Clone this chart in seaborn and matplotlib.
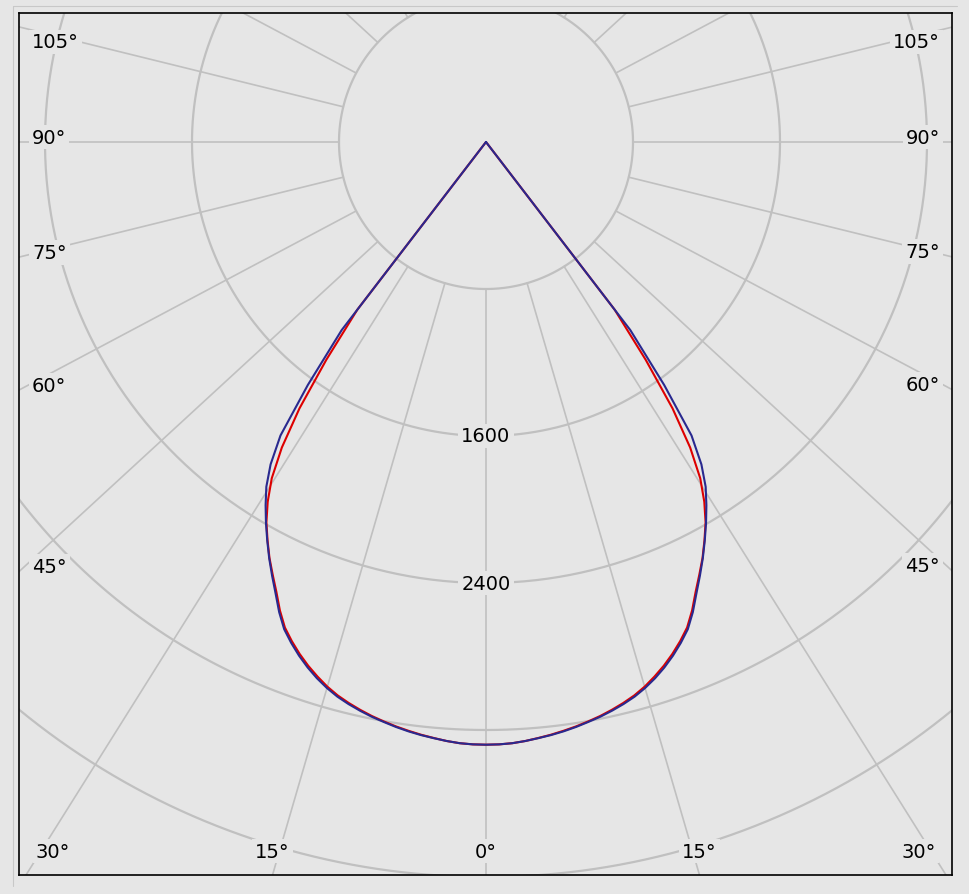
"""
Polar luminous intensity diagram (cd) - two C-planes, red and blue
"""

import numpy as np
import pandas as pd
import matplotlib
matplotlib.use("Agg")
import matplotlib.pyplot as plt
from matplotlib.lines import Line2D
import seaborn as sns

# gamma angles, degrees from nadir (same on both halves of the diagram)
gamma = [0, 1.25, 2.5, 3.75, 5, 6.25, 7.5, 8.75, 10, 11.25, 12.5, 13.75,
         15, 16.25, 17.5, 18.75, 20, 21.25, 22.5, 23.75, 25, 26.25, 27.5,
         28.75, 30, 31.25, 32.5, 33.75, 35, 36.25, 37.5, 40, 45, 60, 75, 90]
# intensities (cd)
blue_cd = [3280, 3279, 3275, 3267, 3257, 3247, 3235, 3221, 3205, 3189, 3170,
           3149, 3125, 3095, 3060, 3020, 2975, 2925, 2870, 2795, 2710, 2632,
           2555, 2475, 2395, 2312, 2225, 2110, 1950, 1640, 1290, 0, 0, 0, 0, 0]
red_cd = [3280, 3279, 3275, 3267, 3256, 3245, 3232, 3218, 3202, 3185, 3165,
          3143, 3118, 3087, 3050, 3010, 2965, 2915, 2860, 2785, 2700, 2625,
          2552, 2472, 2390, 2290, 2170, 2000, 1770, 1470, 1150, 0, 0, 0, 0, 0]

ring_values = [800, 1600, 2400, 3200, 4000]
ring_labels = [1600, 2400]
spoke_angles = list(range(0, 181, 15))

# layout of the reference (pixels)
W, H = 969, 895
FRAME_L, FRAME_T, FRAME_R, FRAME_B = 19, 14, 952, 876
CX, CY = 486, 143
PX = 800 / 147          # candela per pixel
SPOKE_FLATTEN = 0.92    # the spokes in the reference are a bit squashed vertically

BG = '#e6e6e6'
GRID = '#c0c0c0'
BLUE = '#29298f'
RED = '#dd0000'
FONT = ['DejaVu Sans']

sns.set_theme(style='white')
plt.rcParams['font.family'] = FONT


def build_curve(values):
    """Mirror one half profile into a full left-to-right curve"""
    th = np.radians(np.array(gamma, dtype=float))
    v = np.array(values, dtype=float)
    th_full = np.concatenate([-th[::-1], th[1:]])
    v_full = np.concatenate([v[::-1], v[1:]])
    return pd.DataFrame({
        'x': v_full * np.sin(th_full),
        'y': -v_full * np.cos(th_full),
    })


fig = plt.figure(figsize=(W / 100, H / 100), dpi=100, facecolor=BG)
ax = fig.add_axes([FRAME_L / W, 1 - FRAME_B / H,
                   (FRAME_R - FRAME_L) / W, (FRAME_B - FRAME_T) / H])
ax.set_facecolor(BG)

x0, x1 = (FRAME_L - CX) * PX, (FRAME_R - CX) * PX
y0, y1 = (CY - FRAME_B) * PX, (CY - FRAME_T) * PX

# rings
t = np.linspace(0, 2 * np.pi, 721)
for r in ring_values:
    ax.plot(r * np.cos(t), r * np.sin(t), color=GRID, lw=1.6, zorder=1)

label_kw = dict(fontsize=14, color='black', zorder=5,
                bbox=dict(boxstyle='square,pad=0.15', fc=BG, ec='none'))

# spokes and angle labels
for ang in spoke_angles:
    rad = np.radians(ang)
    for side in (-1, 1):
        if ang in (0, 180) and side == 1:
            continue
        d = np.array([side * np.sin(rad), -SPOKE_FLATTEN * np.cos(rad)])
        d /= np.linalg.norm(d)
        p0, p1 = ring_values[0] * d, 9000 * d
        ax.plot([p0[0], p1[0]], [p0[1], p1[1]], color=GRID, lw=1.2, zorder=1)

        # where does the spoke leave the frame
        tx = (x1 if side > 0 else x0) / d[0] if abs(d[0]) > 1e-9 else np.inf
        if d[1] < -1e-9:
            ty = y0 / d[1]
        elif d[1] > 1e-9:
            ty = y1 / d[1]
        else:
            ty = np.inf
        if tx < ty:
            hy = min(tx * d[1] + 5 * PX, (CY - 43) * PX)
            if side < 0:
                ax.text((32 - CX) * PX, hy, f"{ang}°", ha='left', va='center', **label_kw)
            else:
                ax.text((940 - CX) * PX, hy, f"{ang}°", ha='right', va='center', **label_kw)
        elif d[1] < 0:
            hx = np.clip(ty * d[0], (53 - CX) * PX, (919 - CX) * PX)
            ax.text(hx, (CY - 852) * PX, f"{ang}°", ha='center', va='center', **label_kw)

for v in ring_labels:
    ax.text(0, -v, str(v), ha='center', va='center', **label_kw)

# intensity curves
sns.lineplot(data=build_curve(red_cd), x='x', y='y', sort=False, estimator=None,
             color=RED, lw=1.5, ax=ax, zorder=3)
sns.lineplot(data=build_curve(blue_cd), x='x', y='y', sort=False, estimator=None,
             color=BLUE, lw=1.5, ax=ax, zorder=4)

ax.set_xlim(x0, x1)
ax.set_ylim(y0, y1)
ax.set_xticks([])
ax.set_yticks([])
ax.set_xlabel('')
ax.set_ylabel('')
for s in ax.spines.values():
    s.set_visible(True)
    s.set_color('black')
    s.set_linewidth(1.2)

# thin panel edge around the chart (top and left only)
fig.add_artist(Line2D([13 / W, 13 / W], [1 - 7 / H, 1 - 887 / H],
                      transform=fig.transFigure, color='#c8c8c8', lw=0.8))
fig.add_artist(Line2D([13 / W, 957 / W], [1 - 7 / H, 1 - 7 / H],
                      transform=fig.transFigure, color='#c8c8c8', lw=0.8))

fig.savefig('out.png', dpi=100, facecolor=BG)
